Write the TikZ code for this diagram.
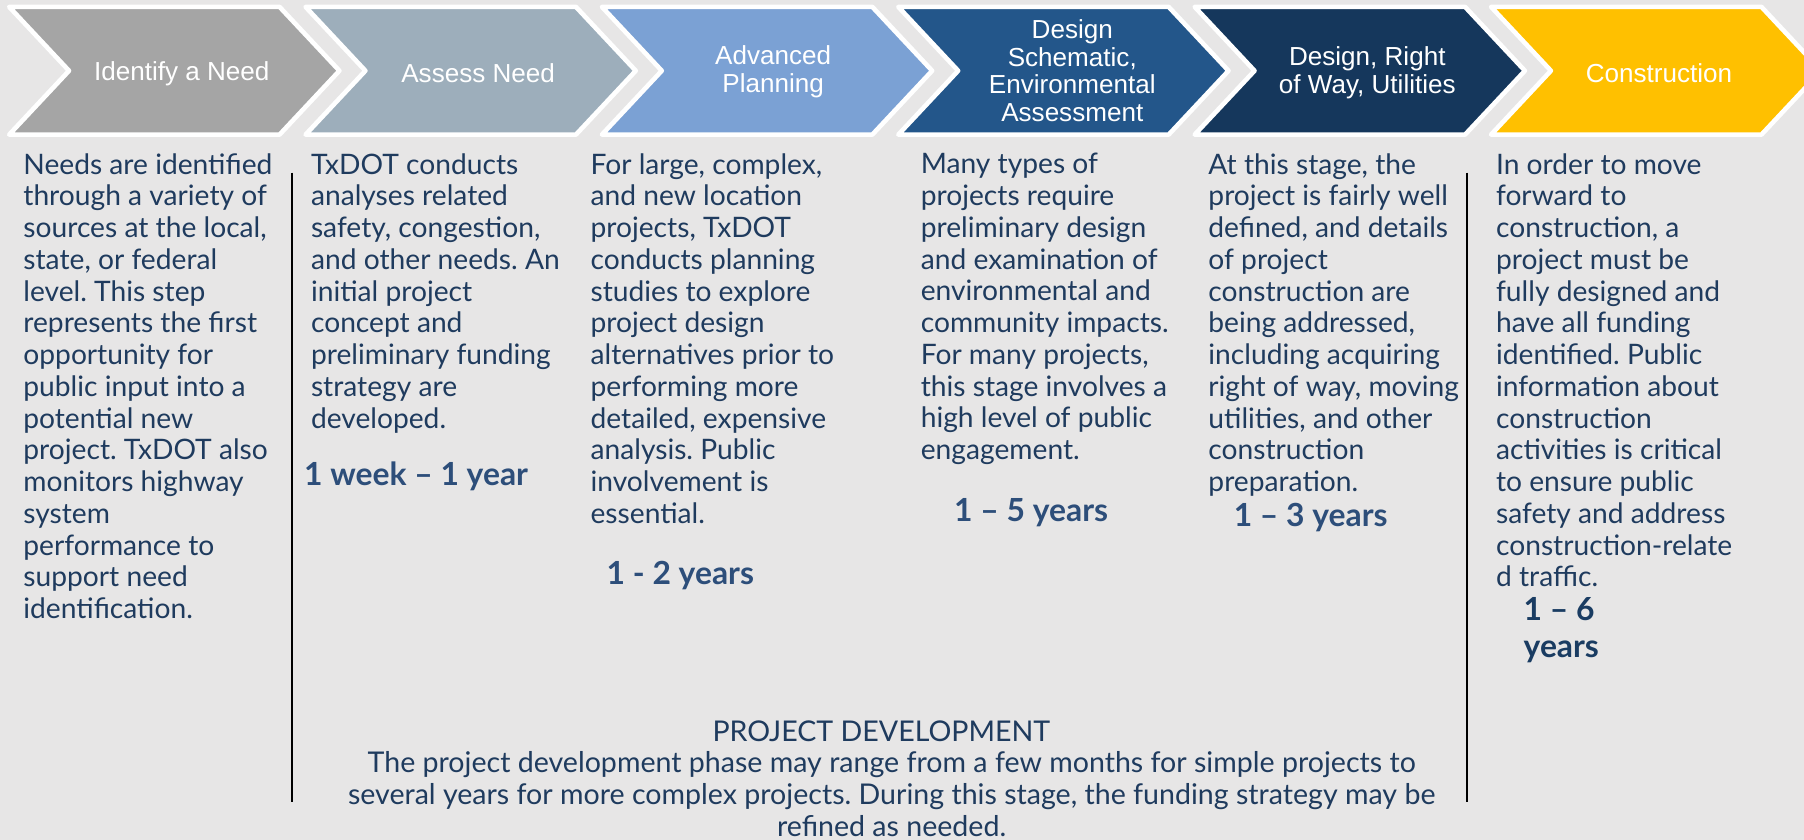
\documentclass[tikz,border=0pt]{standalone}
\usepackage{fontspec}
\setmainfont{Lato}
\newfontfamily\chevfont{Liberation Sans}
\frenchspacing
\definecolor{bg}{HTML}{E7E6E6}
\definecolor{cA}{HTML}{A5A5A5}
\definecolor{cB}{HTML}{9DAEBB}
\definecolor{cC}{HTML}{7BA1D4}
\definecolor{cD}{HTML}{23568A}
\definecolor{cE}{HTML}{15375C}
\definecolor{cF}{HTML}{FFC000}
\definecolor{bodytxt}{HTML}{1F3B5E}
\definecolor{yeartxt}{HTML}{2D4E7A}
\definecolor{yeartxtdark}{HTML}{1A3C62}
\tikzset{
  chevshape/.style={draw=white, line width=2.4pt, line join=round},
  chevlabel/.style={font=\chevfont\fontsize{13.6}{14.4}\selectfont, text=white, align=center, inner sep=0pt},
  bodytext/.style={font=\fontsize{14.7}{16.56}\selectfont, text=bodytxt, align=left, inner sep=0pt, anchor=north west},
  yearlabel/.style={font=\bfseries\fontsize{16.6}{19.2}\selectfont, text=yeartxt, align=left, inner sep=0pt, anchor=west},
  bottomtext/.style={font=\fontsize{14.9}{16.5}\selectfont, text=bodytxt, align=center, inner sep=0pt},
  divider/.style={black, line width=1.2pt}
}
\begin{document}
\begin{tikzpicture}[x=0.6pt,y=-0.6pt]
\fill[bg] (0,0) rectangle (1568,730);
\useasboundingbox (0,0) rectangle (1568,730);
% chevrons
\foreach \i/\col in {0/cA,1/cB,2/cC,3/cD,4/cE,5/cF}{
  \pgfmathsetmacro{\xo}{8+257.6*\i}
  \filldraw[chevshape, fill=\col] (\xo,6) -- ++(235,0) -- ++(52,55.5) -- ++(-52,55.5) -- ++(-235,0) -- ++(52,-55.5) -- cycle;
}
\node[chevlabel] (h1) at (158,64) {Identify a Need};
\node[chevlabel] (h2) at (415.6,64) {Assess Need};
\node[chevlabel] (h3) at (672,62.5) {Advanced\\Planning};
\node[chevlabel] (h4) at (932,61.5) {Design\\Schematic,\\Environmental\\Assessment};
\node[chevlabel] (h5) at (1188.4,63) {Design, Right\\of Way, Utilities};
\node[chevlabel] (h6) at (1442,64) {Construction};
% body texts
\node[bodytext] (t1) at (20,133) {Needs are identified\\through a variety of\\sources at the local,\\state, or federal\\level. This step\\represents the first\\opportunity for\\public input into a\\potential new\\project. TxDOT also\\monitors highway\\system\\performance to\\support need\\identification.};
\node[bodytext] (t2) at (270,133) {TxDOT conducts\\analyses related\\safety, congestion,\\and other needs. An\\initial project\\concept and\\preliminary funding\\strategy are\\developed.};
\node[bodytext] (t3) at (513,133) {For large, complex,\\and new location\\projects, TxDOT\\conducts planning\\studies to explore\\project design\\alternatives prior to\\performing more\\detailed, expensive\\analysis. Public\\involvement is\\essential.};
\node[bodytext] (t4) at (800,133) {Many types of\\projects require\\preliminary design\\and examination of\\environmental and\\community impacts.\\For many projects,\\this stage involves a\\high level of public\\engagement.};
\node[bodytext] (t5) at (1050,133) {At this stage, the\\project is fairly well\\defined, and details\\of project\\construction are\\being addressed,\\including acquiring\\right of way, moving\\utilities, and other\\construction\\preparation.};
\node[bodytext] (t6) at (1300,133) {In order to move\\forward to\\construction, a\\project must be\\fully designed and\\have all funding\\identified. Public\\information about\\construction\\activities is critical\\to ensure public\\safety and address\\construction-relate\\d traffic.};
% durations
\node[yearlabel] (y2) at (264,414) {1 week – 1 year};
\node[yearlabel] (y3) at (527,500) {1 - 2 years};
\node[yearlabel] (y4) at (829,446) {1 – 5 years};
\node[yearlabel] (y5) at (1072,450) {1 – 3 years};
\node[yearlabel, text=yeartxtdark, anchor=north west, font=\bfseries\fontsize{16.6}{19.2}\selectfont] (y6) at (1324,519) {1 – 6\\years};
% dividers
\coordinate (d1a) at (254,150); \coordinate (d1b) at (254,697);
\coordinate (d2a) at (1275,150); \coordinate (d2b) at (1275,697);
\draw[divider] (d1a) -- (d1b);
\draw[divider] (d2a) -- (d2b);
% bottom
\node[bottomtext] (pd) at (766,636) {PROJECT DEVELOPMENT};
\node[bottomtext, anchor=north] (pdt) at (775,653) {The project development phase may range from a few months for simple projects to\\several years for more complex projects. During this stage, the funding strategy may be\\refined as needed.};
\end{tikzpicture}
\end{document}
